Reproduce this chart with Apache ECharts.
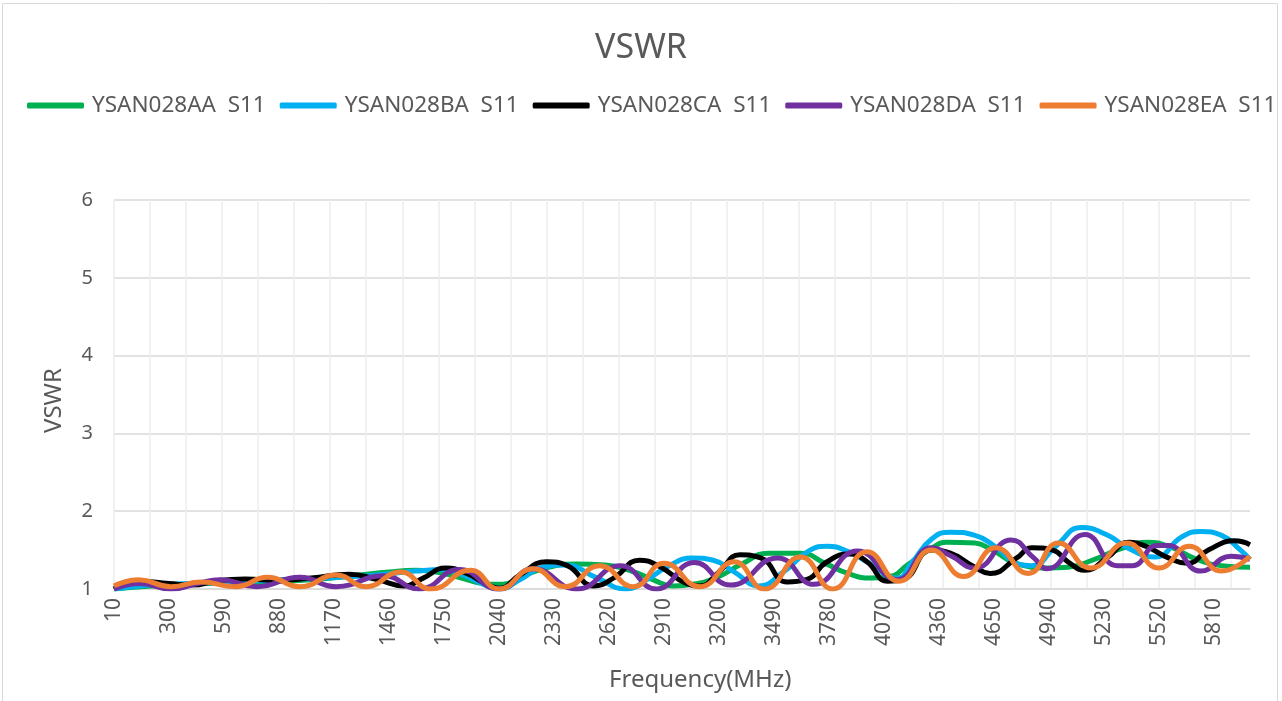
<!DOCTYPE html>
<html>
<head>
<meta charset="utf-8">
<script src="https://cdn.jsdelivr.net/npm/echarts@6/dist/echarts.min.js"></script>
<style>
html,body{margin:0;padding:0;background:#fff;}
#chart{width:1282px;height:701px;}
</style>
</head>
<body>
<div id="chart"></div>
<script>
// Frequency sweep: 10 MHz .. 6000 MHz, 10 MHz step (600 categories)
const freqStart = 10, freqStep = 10, freqEnd = 6000;
const seriesNames = ['YSAN028AA  S11','YSAN028BA  S11','YSAN028CA  S11','YSAN028DA  S11','YSAN028EA  S11'];
const seriesColors = ['#00B050','#00B0F0','#000000','#7030A0','#ED7D31'];
const yTicks = [1,2,3,4,5,6];

// [frequency MHz, VSWR]
const aaS11 = [[10,1.00],[150,1.03],[300,1.05],[500,1.07],[700,1.08],[900,1.10],[1100,1.13],[1300,1.18],[1460,1.22],[1600,1.24],[1700,1.22],[1800,1.17],[1900,1.10],[2000,1.06],[2060,1.06],[2150,1.15],[2300,1.28],[2450,1.32],[2600,1.31],[2750,1.22],[2850,1.12],[2960,1.04],[3060,1.06],[3190,1.15],[3320,1.32],[3460,1.46],[3630,1.46],[3760,1.33],[3880,1.20],[4000,1.14],[4100,1.16],[4200,1.32],[4320,1.52],[4400,1.60],[4550,1.59],[4640,1.50],[4790,1.31],[4930,1.27],[5040,1.28],[5180,1.38],[5320,1.52],[5460,1.60],[5580,1.54],[5720,1.38],[5850,1.30],[6000,1.28]];
const baS11 = [[10,1.00],[200,1.05],[400,1.07],[600,1.08],[800,1.11],[1000,1.13],[1200,1.15],[1400,1.18],[1600,1.23],[1750,1.25],[1850,1.18],[1950,1.07],[2040,1.00],[2150,1.12],[2270,1.28],[2390,1.31],[2550,1.15],[2710,1.00],[2820,1.12],[2930,1.29],[3060,1.40],[3170,1.37],[3280,1.22],[3410,1.04],[3540,1.22],[3680,1.50],[3770,1.55],[3890,1.47],[3980,1.35],[4140,1.14],[4220,1.35],[4320,1.64],[4420,1.73],[4550,1.69],[4660,1.54],[4780,1.32],[4850,1.30],[4980,1.56],[5110,1.79],[5250,1.69],[5360,1.52],[5500,1.41],[5640,1.67],[5740,1.74],[5850,1.69],[5950,1.50],[6000,1.38]];
const caS11 = [[10,1.00],[140,1.10],[300,1.07],[420,1.05],[560,1.11],[700,1.13],[880,1.11],[1050,1.14],[1250,1.19],[1400,1.12],[1540,1.04],[1640,1.14],[1760,1.27],[1870,1.20],[1960,1.08],[2040,1.01],[2150,1.18],[2290,1.35],[2400,1.30],[2540,1.04],[2650,1.15],[2780,1.37],[2880,1.30],[3030,1.07],[3100,1.04],[3200,1.22],[3310,1.44],[3420,1.40],[3560,1.09],[3660,1.12],[3770,1.35],[3890,1.45],[3980,1.35],[4090,1.10],[4170,1.12],[4320,1.50],[4420,1.46],[4550,1.28],[4630,1.20],[4770,1.40],[4850,1.53],[4960,1.50],[5040,1.35],[5130,1.24],[5250,1.41],[5360,1.60],[5450,1.55],[5570,1.40],[5670,1.33],[5780,1.50],[5920,1.62],[6000,1.57]];
const daS11 = [[10,1.00],[150,1.07],[310,1.00],[450,1.07],[570,1.12],[760,1.03],[990,1.15],[1180,1.03],[1430,1.17],[1620,1.00],[1830,1.25],[2040,1.00],[2220,1.26],[2450,1.00],[2680,1.30],[2870,1.00],[3070,1.34],[3260,1.05],[3510,1.40],[3700,1.06],[3930,1.49],[4140,1.12],[4320,1.53],[4420,1.43],[4550,1.27],[4740,1.63],[4860,1.40],[4930,1.26],[5130,1.70],[5300,1.30],[5380,1.30],[5510,1.56],[5570,1.56],[5740,1.23],[5900,1.42],[6000,1.38]];
const eaS11 = [[10,1.04],[140,1.12],[310,1.03],[470,1.09],[650,1.03],[820,1.15],[990,1.03],[1180,1.18],[1340,1.03],[1520,1.22],[1680,1.00],[1890,1.24],[2040,1.00],[2220,1.26],[2390,1.03],[2570,1.30],[2750,1.03],[2910,1.33],[3100,1.03],[3280,1.35],[3440,1.00],[3630,1.41],[3800,1.00],[3980,1.48],[4150,1.10],[4320,1.50],[4490,1.16],[4660,1.53],[4830,1.20],[4990,1.59],[5160,1.27],[5350,1.59],[5520,1.27],[5680,1.55],[5850,1.23],[6000,1.42]];

const categories = [];
for (let f = freqStart; f <= freqEnd; f += freqStep) categories.push(String(f));

const allData = [aaS11, baS11, caS11, daS11, eaS11];
const textColor = '#595959';
const fontFam = '"Noto Sans", "Liberation Sans", sans-serif';

const chart = echarts.init(document.getElementById('chart'), null, {renderer: 'canvas'});
chart.setOption({
  animation: false,
  backgroundColor: '#ffffff',
  textStyle: {fontFamily: fontFam},
  title: {
    text: 'VSWR', left: 'center', top: 26,
    textStyle: {fontSize: 34, fontWeight: 'normal', color: textColor, fontFamily: fontFam}
  },
  legend: {
    top: 89, left: 22,
    icon: 'roundRect', itemWidth: 57, itemHeight: 6, itemGap: 14,
    textStyle: {fontSize: 22.5, color: textColor, fontFamily: fontFam, padding: [0,0,0,3]},
    data: seriesNames
  },
  grid: {left: 114, right: 32, top: 200, bottom: 112, containLabel: false},
  xAxis: {
    type: 'category', data: categories, boundaryGap: false,
    axisLine: {lineStyle: {color: '#d9d9d9', width: 1.5}},
    axisTick: {show: false},
    axisLabel: {interval: 28, rotate: 90, fontSize: 21, color: textColor, margin: 9, fontFamily: fontFam},
    splitLine: {show: true, interval: 18, lineStyle: {color: '#ececec', width: 1.5}}
  },
  yAxis: {
    type: 'value', min: 1, max: 6, interval: 1,
    axisLine: {show: false}, axisTick: {show: false},
    axisLabel: {fontSize: 20, color: textColor, margin: 21, fontFamily: fontFam},
    splitLine: {lineStyle: {color: '#d9d9d9', width: 1.5}}
  },
  graphic: [
    {type: 'rect', shape: {x: 2.5, y: 3.5, width: 1275, height: 720}, style: {fill: 'none', stroke: '#d9d9d9', lineWidth: 1}, silent: true},
    {type: 'text', left: 609, top: 668, style: {text: 'Frequency(MHz)', fontSize: 24, fill: textColor, fontFamily: fontFam}},
    {type: 'text', x: 42, y: 433, rotation: Math.PI/2, style: {text: 'VSWR', fontSize: 24, fill: textColor, fontFamily: fontFam}}
  ],
  series: seriesNames.map((name, i) => ({
    name: name, type: 'line', smooth: 0.5, showSymbol: false, symbol: 'none',
    color: seriesColors[i],
    lineStyle: {width: 5, color: seriesColors[i]},
    emphasis: {disabled: true},
    data: allData[i].map(p => [(p[0] - freqStart) / freqStep, p[1]])
  }))
});
</script>
</body>
</html>
